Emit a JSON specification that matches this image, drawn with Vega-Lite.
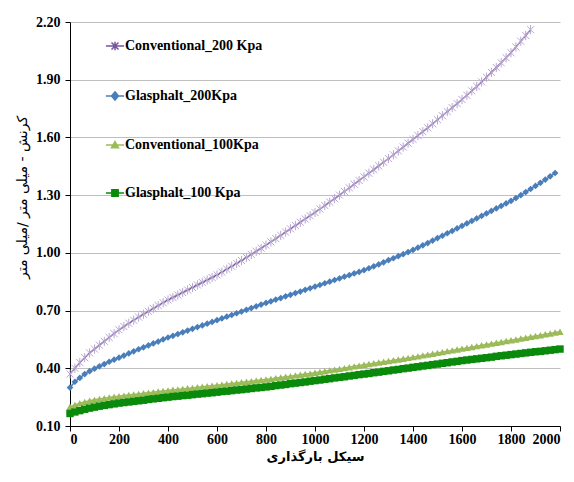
{
  "$schema": "https://vega.github.io/schema/vega-lite/v6.json",
  "width": 490,
  "height": 404,
  "autosize": {"type": "none"},
  "padding": {"left": 70, "top": 22, "right": 14, "bottom": 56},
  "background": "white",
  "config": {"view": {"stroke": null}},
  "data": {"values": [
    {"c":0,"p":0.37,"b":0.30,"l":0.20,"d":0.165},
    {"c":20,"p":0.40,"b":0.33,"l":0.21,"d":0.173},
    {"c":40,"p":0.43,"b":0.35,"l":0.218,"d":0.18},
    {"c":60,"p":0.455,"b":0.37,"l":0.225,"d":0.187},
    {"c":80,"p":0.48,"b":0.385,"l":0.231,"d":0.193},
    {"c":100,"p":0.50,"b":0.398,"l":0.236,"d":0.198},
    {"c":120,"p":0.52,"b":0.41,"l":0.24,"d":0.203},
    {"c":140,"p":0.54,"b":0.422,"l":0.244,"d":0.207},
    {"c":160,"p":0.56,"b":0.434,"l":0.248,"d":0.211},
    {"c":180,"p":0.58,"b":0.445,"l":0.252,"d":0.215},
    {"c":200,"p":0.60,"b":0.455,"l":0.255,"d":0.219},
    {"c":220,"p":0.617,"b":0.466,"l":0.258,"d":0.222},
    {"c":240,"p":0.634,"b":0.477,"l":0.261,"d":0.225},
    {"c":260,"p":0.65,"b":0.488,"l":0.264,"d":0.228},
    {"c":280,"p":0.666,"b":0.499,"l":0.267,"d":0.231},
    {"c":300,"p":0.681,"b":0.509,"l":0.27,"d":0.234},
    {"c":320,"p":0.696,"b":0.519,"l":0.273,"d":0.238},
    {"c":340,"p":0.711,"b":0.529,"l":0.276,"d":0.241},
    {"c":360,"p":0.726,"b":0.539,"l":0.279,"d":0.244},
    {"c":380,"p":0.741,"b":0.55,"l":0.282,"d":0.247},
    {"c":400,"p":0.755,"b":0.56,"l":0.285,"d":0.25},
    {"c":420,"p":0.768,"b":0.569,"l":0.288,"d":0.253},
    {"c":440,"p":0.781,"b":0.578,"l":0.29,"d":0.255},
    {"c":460,"p":0.794,"b":0.587,"l":0.293,"d":0.258},
    {"c":480,"p":0.807,"b":0.596,"l":0.296,"d":0.26},
    {"c":500,"p":0.82,"b":0.605,"l":0.298,"d":0.263},
    {"c":520,"p":0.833,"b":0.614,"l":0.301,"d":0.266},
    {"c":540,"p":0.846,"b":0.623,"l":0.304,"d":0.268},
    {"c":560,"p":0.859,"b":0.632,"l":0.307,"d":0.271},
    {"c":580,"p":0.872,"b":0.641,"l":0.309,"d":0.273},
    {"c":600,"p":0.885,"b":0.65,"l":0.312,"d":0.276},
    {"c":620,"p":0.9,"b":0.659,"l":0.315,"d":0.279},
    {"c":640,"p":0.915,"b":0.668,"l":0.318,"d":0.281},
    {"c":660,"p":0.93,"b":0.677,"l":0.321,"d":0.284},
    {"c":680,"p":0.945,"b":0.686,"l":0.324,"d":0.287},
    {"c":700,"p":0.96,"b":0.695,"l":0.327,"d":0.289},
    {"c":720,"p":0.976,"b":0.704,"l":0.33,"d":0.292},
    {"c":740,"p":0.992,"b":0.713,"l":0.333,"d":0.295},
    {"c":760,"p":1.008,"b":0.722,"l":0.336,"d":0.298},
    {"c":780,"p":1.024,"b":0.731,"l":0.339,"d":0.3},
    {"c":800,"p":1.04,"b":0.74,"l":0.342,"d":0.303},
    {"c":820,"p":1.057,"b":0.748,"l":0.345,"d":0.306},
    {"c":840,"p":1.074,"b":0.757,"l":0.349,"d":0.31},
    {"c":860,"p":1.091,"b":0.765,"l":0.352,"d":0.313},
    {"c":880,"p":1.108,"b":0.774,"l":0.356,"d":0.316},
    {"c":900,"p":1.125,"b":0.782,"l":0.359,"d":0.32},
    {"c":920,"p":1.142,"b":0.791,"l":0.363,"d":0.323},
    {"c":940,"p":1.159,"b":0.799,"l":0.366,"d":0.326},
    {"c":960,"p":1.176,"b":0.808,"l":0.37,"d":0.329},
    {"c":980,"p":1.193,"b":0.816,"l":0.373,"d":0.333},
    {"c":1000,"p":1.21,"b":0.825,"l":0.377,"d":0.336},
    {"c":1020,"p":1.228,"b":0.833,"l":0.381,"d":0.339},
    {"c":1040,"p":1.246,"b":0.842,"l":0.385,"d":0.343},
    {"c":1060,"p":1.264,"b":0.85,"l":0.389,"d":0.346},
    {"c":1080,"p":1.282,"b":0.859,"l":0.393,"d":0.35},
    {"c":1100,"p":1.30,"b":0.867,"l":0.397,"d":0.353},
    {"c":1120,"p":1.319,"b":0.876,"l":0.401,"d":0.356},
    {"c":1140,"p":1.338,"b":0.884,"l":0.405,"d":0.36},
    {"c":1160,"p":1.357,"b":0.893,"l":0.41,"d":0.363},
    {"c":1180,"p":1.376,"b":0.901,"l":0.414,"d":0.367},
    {"c":1200,"p":1.395,"b":0.91,"l":0.418,"d":0.37},
    {"c":1220,"p":1.414,"b":0.92,"l":0.422,"d":0.373},
    {"c":1240,"p":1.433,"b":0.93,"l":0.426,"d":0.377},
    {"c":1260,"p":1.452,"b":0.94,"l":0.43,"d":0.38},
    {"c":1280,"p":1.471,"b":0.951,"l":0.434,"d":0.384},
    {"c":1300,"p":1.49,"b":0.962,"l":0.438,"d":0.387},
    {"c":1320,"p":1.51,"b":0.972,"l":0.442,"d":0.391},
    {"c":1340,"p":1.53,"b":0.983,"l":0.446,"d":0.394},
    {"c":1360,"p":1.55,"b":0.993,"l":0.45,"d":0.398},
    {"c":1380,"p":1.57,"b":1.004,"l":0.454,"d":0.401},
    {"c":1400,"p":1.59,"b":1.015,"l":0.458,"d":0.405},
    {"c":1420,"p":1.61,"b":1.027,"l":0.462,"d":0.408},
    {"c":1440,"p":1.63,"b":1.039,"l":0.467,"d":0.412},
    {"c":1460,"p":1.65,"b":1.051,"l":0.471,"d":0.415},
    {"c":1480,"p":1.671,"b":1.064,"l":0.476,"d":0.419},
    {"c":1500,"p":1.692,"b":1.077,"l":0.48,"d":0.422},
    {"c":1520,"p":1.713,"b":1.089,"l":0.484,"d":0.426},
    {"c":1540,"p":1.734,"b":1.102,"l":0.489,"d":0.429},
    {"c":1560,"p":1.755,"b":1.114,"l":0.493,"d":0.433},
    {"c":1580,"p":1.776,"b":1.127,"l":0.498,"d":0.436},
    {"c":1600,"p":1.797,"b":1.14,"l":0.502,"d":0.44},
    {"c":1620,"p":1.819,"b":1.153,"l":0.506,"d":0.443},
    {"c":1640,"p":1.842,"b":1.166,"l":0.511,"d":0.446},
    {"c":1660,"p":1.865,"b":1.179,"l":0.515,"d":0.449},
    {"c":1680,"p":1.889,"b":1.192,"l":0.52,"d":0.452},
    {"c":1700,"p":1.913,"b":1.205,"l":0.524,"d":0.455},
    {"c":1720,"p":1.938,"b":1.218,"l":0.528,"d":0.458},
    {"c":1740,"p":1.963,"b":1.231,"l":0.533,"d":0.462},
    {"c":1760,"p":1.988,"b":1.244,"l":0.537,"d":0.465},
    {"c":1780,"p":2.014,"b":1.257,"l":0.542,"d":0.468},
    {"c":1800,"p":2.04,"b":1.27,"l":0.546,"d":0.471},
    {"c":1820,"p":2.07,"b":1.285,"l":0.55,"d":0.474},
    {"c":1840,"p":2.10,"b":1.30,"l":0.555,"d":0.477},
    {"c":1860,"p":2.13,"b":1.316,"l":0.559,"d":0.48},
    {"c":1880,"p":2.16,"b":1.332,"l":0.564,"d":0.483},
    {"c":1900,"b":1.348,"l":0.568,"d":0.486},
    {"c":1920,"b":1.364,"l":0.572,"d":0.488},
    {"c":1940,"b":1.381,"l":0.577,"d":0.491},
    {"c":1960,"b":1.398,"l":0.581,"d":0.494},
    {"c":1980,"b":1.415,"l":0.586,"d":0.497},
    {"c":2000,"l":0.59,"d":0.50}
  ]},
  "transform": [
    {"fold": ["p", "b", "l", "d"], "as": ["s", "v"]},
    {"filter": "isValid(datum.v)"}
  ],
  "encoding": {
    "x": {
      "field": "c", "type": "quantitative",
      "scale": {"domain": [0, 2000], "nice": false},
      "axis": {
        "title": "سیکل بارگذاری",
        "values": [0, 200, 400, 600, 800, 1000, 1200, 1400, 1600, 1800, 2000],
        "format": "d", "grid": false,
        "domainColor": "black", "domainWidth": 1, "tickColor": "black", "tickSize": 5,
        "labelFont": "Liberation Serif", "labelFontWeight": "bold", "labelFontSize": 14,
        "labelColor": "black", "labelPadding": 1,
        "titleFont": "DejaVu Sans", "titleFontWeight": "bold", "titleFontSize": 13,
        "titleColor": "black", "titlePadding": 4
      }
    },
    "y": {
      "field": "v", "type": "quantitative",
      "scale": {"domain": [0.1, 2.2], "nice": false, "zero": false},
      "axis": {
        "title": "کرنش      -      میلی متر /میلی متر",
        "values": [0.1, 0.4, 0.7, 1.0, 1.3, 1.6, 1.9, 2.2],
        "format": ".2f", "grid": true, "gridColor": "#bfbfbf", "gridWidth": 1,
        "domainColor": "black", "domainWidth": 1, "tickColor": "black", "tickSize": 5,
        "labelFont": "Liberation Serif", "labelFontWeight": "bold", "labelFontSize": 14,
        "labelColor": "black", "labelPadding": 5,
        "titleFont": "DejaVu Sans", "titleFontWeight": "normal", "titleFontSize": 14,
        "titleColor": "black", "titlePadding": 6, "titleY": 175
      }
    }
  },
  "layer": [
    {
      "mark": {"type": "line", "strokeWidth": 1.5},
      "encoding": {
        "color": {
          "field": "s", "type": "nominal",
          "scale": {"domain": ["p", "b", "l", "d"], "range": ["#75569a", "#4a7ebb", "#9bbb59", "#0a8a0a"]},
          "legend": {
            "orient": "none", "legendX": 38, "legendY": 17, "direction": "vertical",
            "title": null, "rowPadding": 34, "symbolSize": 49, "symbolStrokeWidth": 1.5,
            "labelOffset": 3, "labelFont": "Liberation Serif", "labelFontWeight": "bold",
            "labelFontSize": 14, "labelColor": "black",
            "labelExpr": "datum.label == 'p' ? 'Conventional_200 Kpa' : datum.label == 'b' ? 'Glasphalt_200Kpa' : datum.label == 'l' ? 'Conventional_100Kpa' : 'Glasphalt_100 Kpa'",
            "encode": {
              "symbols": {
                "update": {
                  "shape": {"signal": "datum.value == 'p' ? 'M-2.6,0H2.6M-1,-1L1,1M-1,1L1,-1M0,-1.2V1.2' : datum.value == 'b' ? 'M-2.6,0H2.6M0,-1.2L1,0L0,1.2L-1,0Z' : datum.value == 'l' ? 'M-2.6,0H2.6M0,-1L1,0.8H-1Z' : 'M-2.6,0H2.6M-0.9,-0.9H0.9V0.9H-0.9Z'"},
                  "fill": {"signal": "datum.value == 'p' ? 'transparent' : datum.value == 'b' ? '#4a7ebb' : datum.value == 'l' ? '#9bbb59' : '#0a8a0a'"},
                  "stroke": {"signal": "datum.value == 'p' ? '#9a86b8' : datum.value == 'b' ? '#4a7ebb' : datum.value == 'l' ? '#9bbb59' : '#0a8a0a'"},
                  "strokeWidth": {"value": 1.5},
                  "opacity": {"value": 1}
                }
              }
            }
          }
        }
      }
    },
    {
      "transform": [{"filter": "datum.s == 'p'"}],
      "mark": {"type": "point", "shape": "M-1,-1L1,1M-1,1L1,-1M0,-1.3V1.3", "filled": false, "size": 50, "color": "#b9a7d2", "strokeWidth": 1, "opacity": 1}
    },
    {
      "transform": [{"filter": "datum.s == 'b'"}],
      "mark": {"type": "point", "shape": "diamond", "filled": true, "size": 45, "color": "#4a7ebb", "opacity": 1}
    },
    {
      "transform": [{"filter": "datum.s == 'l'"}],
      "mark": {"type": "point", "shape": "triangle-up", "filled": true, "size": 55, "color": "#9bbb59", "opacity": 1}
    },
    {
      "transform": [{"filter": "datum.s == 'd'"}],
      "mark": {"type": "point", "shape": "square", "filled": true, "size": 55, "color": "#0a8a0a", "opacity": 1}
    }
  ]
}
